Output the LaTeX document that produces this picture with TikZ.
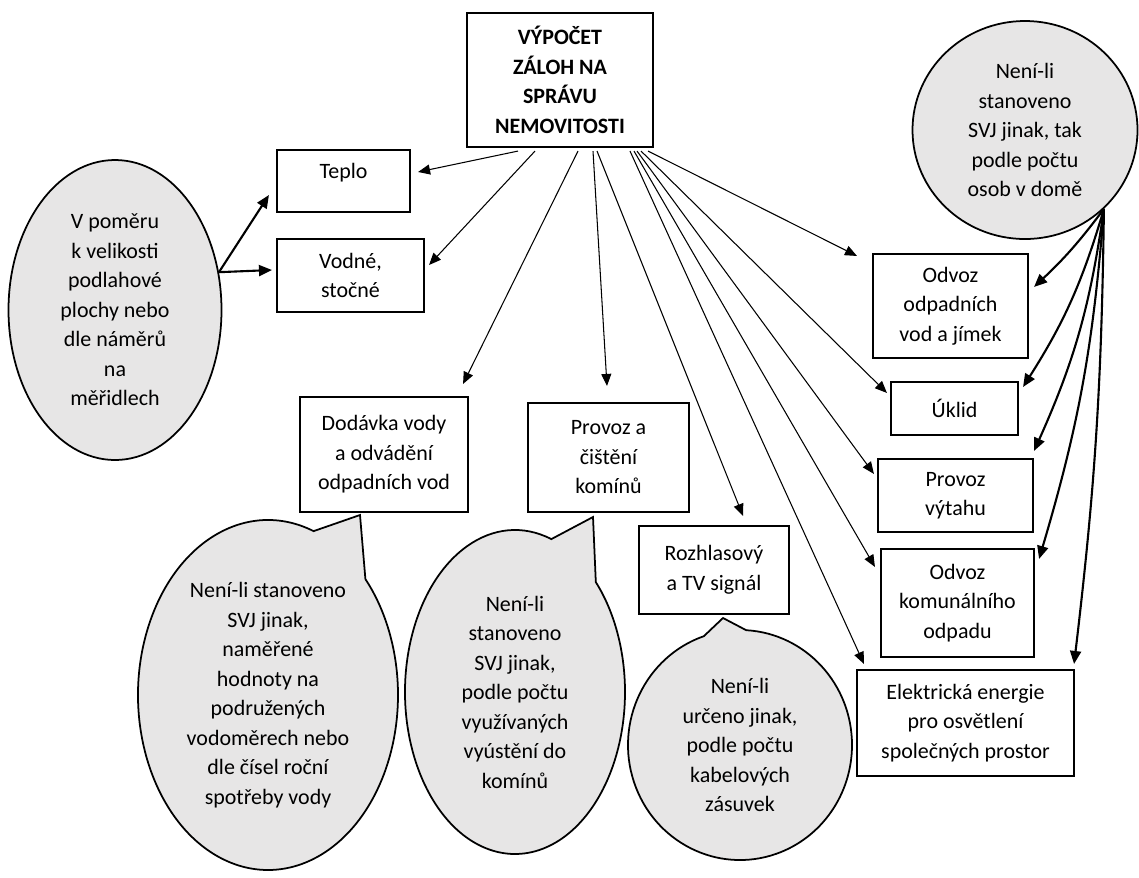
\documentclass[tikz,border=0pt]{standalone}
\usepackage{fontspec}
\setmainfont{Carlito}
\usetikzlibrary{arrows.meta,shapes.geometric,shapes.callouts,calc}
\definecolor{bubble}{RGB}{231,230,230}

\begin{document}
\begin{tikzpicture}[x=0.02cm,y=-0.02cm,font=\fontsize{12.5}{16.8}\selectfont,
  wh/.style 2 args={minimum width=#1*0.02cm,minimum height=#2*0.02cm},
  box/.style={draw,line width=1.2pt,align=center,inner sep=0pt},
  oval/.style={ellipse,draw,line width=1pt,fill=bubble,align=center,inner sep=0pt},
  talk/.style={ellipse callout,draw,line width=1pt,fill=bubble,align=center,inner sep=0pt,callout pointer arc=28},
  thin/.style={-{Triangle[length=2.4mm,width=2mm]},line width=0.6pt},
  thick/.style={-{Triangle[length=2.6mm,width=2.2mm]},line width=1.2pt}]
  \useasboundingbox (0,0) rectangle (1139,877);

  \node[box,wh={186}{134}] (main) at (560,80) {\textbf{VÝPOČET}\\\textbf{ZÁLOH NA}\\\textbf{SPRÁVU}\\\textbf{NEMOVITOSTI}};
  \node[box,wh={133}{62},text depth=11pt] (teplo) at (343.5,181) {Teplo};
  \node[box,wh={147}{73}] (vodne) at (350.5,275.5) {Vodné,\\stočné};
  \node[oval,wh={213}{300}] (pomer) at (115,310) {V poměru\\k velikosti\\podlahové\\plochy nebo\\dle náměrů\\na\\měřidlech};
  \node[box,wh={168}{115}] (dodavka) at (384,454.5) {Dodávka vody\\a odvádění\\odpadních vod};
  \node[box,wh={161}{109}] (kominy) at (608.5,457.5) {Provoz a\\čištění\\komínů};
  \node[box,wh={150}{88}] (rozhlas) at (714,570) {Rozhlasový\\a TV signál};
  \node[box,wh={155}{104}] (odpvody) at (950.5,306) {Odvoz\\odpadních\\vod a jímek};
  \node[box,wh={127}{53}] (uklid) at (954.5,408.5) {Úklid};
  \node[box,wh={155}{73}] (vytah) at (955.5,495.5) {Provoz\\výtahu};
  \node[box,wh={153}{108}] (komodpad) at (957.5,603) {Odvoz\\komunálního\\odpadu};
  \node[box,wh={217}{106}] (elektro) at (965.5,723) {Elektrická energie\\pro osvětlení\\společných prostor};
  \node[oval,wh={225}{218}] (osoby) at (1025,130) {Není-li\\stanoveno\\SVJ jinak, tak\\podle počtu\\osob v domě};

  \node[talk,wh={260}{350},callout absolute pointer={(360,515)}] (vodainfo) at (268,695)
    {Není-li stanoveno\\SVJ jinak,\\naměřené\\hodnoty na\\podružených\\vodoměrech nebo\\dle čísel roční\\spotřeby vody};
  \node[talk,wh={220}{324},callout absolute pointer={(593,517)}] (kominyinfo) at (515,692)
    {Není-li\\stanoveno\\SVJ jinak,\\podle počtu\\využívaných\\vyústění do\\komínů};
  \node[talk,wh={224}{230},callout pointer arc=22,callout absolute pointer={(723,618)}] (rozhlasinfo) at (740,745)
    {Není-li\\určeno jinak,\\podle počtu\\kabelových\\zásuvek};

  \coordinate (split) at (pomer.20);
  \coordinate (hub) at (osoby.-45);

  \draw[thick] (split) -- ($(teplo.west)+(-7,14)$);
  \draw[thick] (split) -- ($(vodne.west)+(-4,-5.5)$);

  \draw[thin] ($(main.south)+(-42,3)$) -- ($(teplo.east)+(7,-9)$);
  \draw[thin] ($(main.south)+(-25,3)$) -- ($(vodne.east)+(4,-10.5)$);
  \draw[thin] ($(main.south)+(18,3)$) -- ($(dodavka.north east)+(-6,-12)$);
  \draw[thin] ($(main.south)+(33,3)$) -- ($(kominy.north)+(-1.5,-16)$);
  \draw[thin] ($(main.south)+(37,3)$) -- ($(rozhlas.north)+(29,-9)$);
  \draw[thin] ($(main.south)+(70,3)$) -- ($(elektro.north west)+(8,-5)$);
  \draw[thin] ($(main.south)+(74,3)$) -- ($(komodpad.north west)+(-5,19)$);
  \draw[thin] ($(main.south)+(77,3)$) -- ($(vytah.north west)+(-3,16)$);
  \draw[thin] ($(main.south)+(81,3)$) -- ($(uklid.north west)+(-3,12)$);
  \draw[thin] ($(main.south)+(88,3)$) -- ($(odpvody.north west)+(-15,3)$);

  \draw[thick] (hub) to[bend left=5] ($(odpvody.north east)+(5,34)$);
  \draw[thick] (hub) to[bend left=8] ($(uklid.north east)+(4,6)$);
  \draw[thick] (hub) to[bend left=8] ($(vytah.north east)+(0,-7)$);
  \draw[thick] (hub) to[bend left=6] ($(komodpad.north east)+(4,11)$);
  \draw[thick] (hub) to[bend left=3] ($(elektro.north east)+(-1,-5)$);
\end{tikzpicture}
\end{document}
